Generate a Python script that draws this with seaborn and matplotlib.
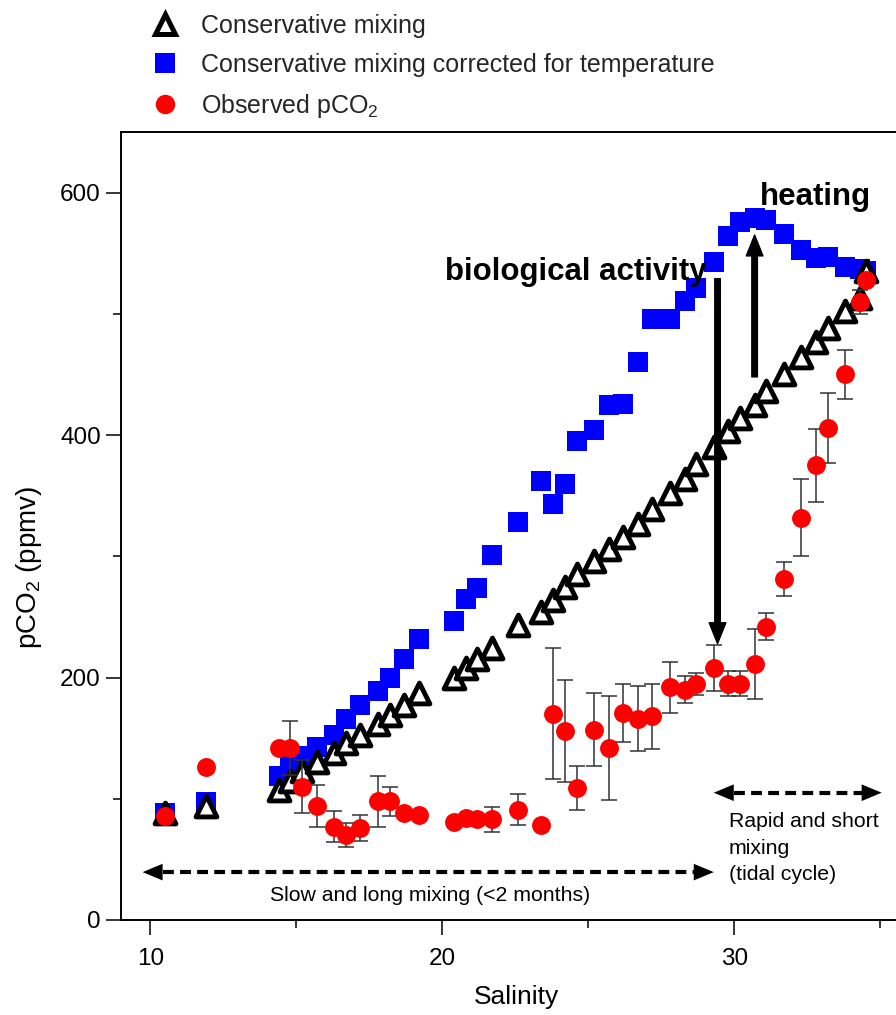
import numpy as np
import pandas as pd
import matplotlib
matplotlib.use("Agg")
import matplotlib.pyplot as plt
import seaborn as sns
from matplotlib.lines import Line2D

# ---------------- data ----------------
salinity = [10.5, 11.9, 14.4, 14.8, 15.2, 15.7, 16.3, 16.7, 17.2, 17.8, 18.2, 18.7, 19.2,
            20.4, 20.8, 21.2, 21.7, 22.6, 23.4, 23.8, 24.2, 24.6, 25.2, 25.7, 26.2, 26.7,
            27.2, 27.8, 28.3, 28.7, 29.3, 29.8, 30.2, 30.7, 31.1, 31.7, 32.3, 32.8, 33.2,
            33.8, 34.3, 34.5]
conservative = [88, 94, 107, 115, 123, 130, 138, 146, 153, 162, 169, 177, 187,
                200, 208, 215, 224, 243, 254, 264, 275, 285, 296, 306, 316, 327,
                339, 352, 364, 376, 390, 403, 414, 425, 436, 450, 464, 477, 488,
                502, 513, 535]
conservative_temp = [88, 97, 119, 127, 135, 143, 153, 166, 177, 189, 200, 215, 232,
                     247, 265, 274, 301, 328, 362, 343, 360, 395, 404, 425, 426, 460,
                     496, 496, 511, 521, 543, 564, 576, 579, 577, 566, 553, 546, 547,
                     539, 537, 535]
observed = [86, 126, 142, 142, 110, 94, 77, 70, 76, 98, 98, 88, 87,
            81, 84, 83, 83, 91, 78, 170, 156, 109, 157, 142, 171, 166,
            168, 192, 190, 195, 208, 195, 195, 211, 242, 281, 332, 375, 406,
            450, 510, 528]
observed_err = [0, 0, 0, 22, 22, 17, 13, 10, 11, 21, 12, 0, 0,
                0, 0, 0, 10, 13, 0, 54, 42, 18, 30, 43, 24, 27,
                27, 21, 11, 9, 19, 10, 10, 29, 11, 14, 32, 30, 29,
                20, 10, 0]

legend_labels = ["Conservative mixing",
                 "Conservative mixing corrected for temperature",
                 "Observed pCO$_2$"]
x_major = [10, 20, 30]
x_minor = [15, 25, 35]
y_major = [0, 200, 400, 600]
y_minor = [100, 300, 500]

# ---------------- style ----------------
sns.set_theme(style="ticks")
plt.rcParams["font.family"] = ["Liberation Sans", "DejaVu Sans"]
plt.rcParams["mathtext.default"] = "regular"
plt.rcParams["axes.linewidth"] = 1.4

df = pd.DataFrame({"salinity": salinity, "mix": conservative, "mix_t": conservative_temp,
                   "obs": observed, "err": observed_err})

W, H = 896, 1015
fig = plt.figure(figsize=(W / 100, H / 100), dpi=100)
ax = fig.add_axes([121 / W, 1 - 920 / H, (912.3 - 121) / W, (920 - 132) / H])

sns.scatterplot(data=df, x="salinity", y="mix_t", marker="s", s=225, color="#0000FF",
                linewidth=0, ax=ax, zorder=2, legend=False)
sns.scatterplot(data=df, x="salinity", y="mix", marker="^", s=225, color="white",
                edgecolor="black", linewidth=3.5, ax=ax, zorder=3, legend=False)
e = df[df["err"] > 0]
ax.errorbar(e["salinity"], e["obs"], yerr=e["err"], fmt="none", ecolor="#333333",
            elinewidth=1.1, capsize=5.8, capthick=1.1, zorder=4)
sns.scatterplot(data=df, x="salinity", y="obs", marker="o", s=185, color="#FF0000",
                linewidth=0, ax=ax, zorder=5, legend=False)

ax.set_xlim(9, 36.1)
ax.set_ylim(0, 650)
ax.set_xticks(x_major)
ax.set_xticks(x_minor, minor=True)
ax.set_yticks(y_major)
ax.set_yticks(y_minor, minor=True)
ax.tick_params(axis="both", which="major", length=11, width=1.1, direction="out",
               labelsize=17.5, color="black", labelcolor="black")
ax.tick_params(axis="both", which="minor", length=6, width=1.1, direction="out", color="black")
ax.tick_params(axis="x", which="major", pad=9)
ax.tick_params(axis="y", which="major", pad=3.5)
for sp in ax.spines.values():
    sp.set_color("black")
    sp.set_linewidth(1.4)
ax.set_xlabel("Salinity", fontsize=19, labelpad=11, color="black")
ax.set_ylabel("pCO$_2$ (ppmv)", fontsize=20, color="black")
ax.yaxis.set_label_coords(-(121 - 44) / (912.3 - 121), (920 - 567) / (920 - 132))

# ---------------- annotations ----------------
arrow_kw = dict(facecolor="black", edgecolor="black", width=4, headwidth=12,
                headlength=15, shrink=0)
ax.annotate("", xy=(29.43, 228), xytext=(29.43, 529), arrowprops=arrow_kw, zorder=6)
ax.annotate("", xy=(30.7, 565), xytext=(30.7, 448), arrowprops=arrow_kw, zorder=6)
ax.text(20.09, 528, "biological activity", fontsize=22.5, fontweight="bold",
        va="baseline", ha="left", zorder=7, color="black")
ax.text(30.87, 590, "heating", fontsize=22.5, fontweight="bold",
        va="baseline", ha="left", zorder=7, color="black")


def dashed_double_arrow(x0, x1, y):
    hl = 20 / 29.2
    ax.plot([x0 + hl, x1 - hl], [y, y], color="black", lw=3.0,
            ls=(0, (2.6, 1.5)), dash_capstyle="butt", zorder=6)
    for tip, base in ((x0, x0 + hl), (x1, x1 - hl)):
        ax.annotate("", xy=(tip, y), xytext=(base, y),
                    arrowprops=dict(facecolor="black", edgecolor="none", width=0.01,
                                    headwidth=12, headlength=14.4, shrink=0), zorder=6)


dashed_double_arrow(9.74, 29.3, 39.5)
dashed_double_arrow(29.3, 35.05, 105)
ax.text(19.57, 20.5, "Slow and long mixing (<2 months)", fontsize=15.3,
        ha="center", va="center", color="black")
ax.text(29.81, 89, "Rapid and short\nmixing\n(tidal cycle)", fontsize=15.3,
        ha="left", va="top", linespacing=1.5, color="black")

# ---------------- legend ----------------
handles = [
    Line2D([], [], marker="^", ls="none", markersize=15, mfc="white", mec="black", mew=3.6),
    Line2D([], [], marker="s", ls="none", markersize=15, mfc="#0000FF", mec="none", mew=0),
    Line2D([], [], marker="o", ls="none", markersize=14, mfc="#FF0000", mec="none", mew=0),
]
fig.legend(handles, legend_labels, loc="upper left", bbox_to_anchor=(0.170, 1 - 14 / H),
           frameon=False, fontsize=18, handlelength=1.0, handletextpad=0.94,
           labelspacing=0.6, borderpad=0, borderaxespad=0)

fig.savefig("out.png", dpi=100)
